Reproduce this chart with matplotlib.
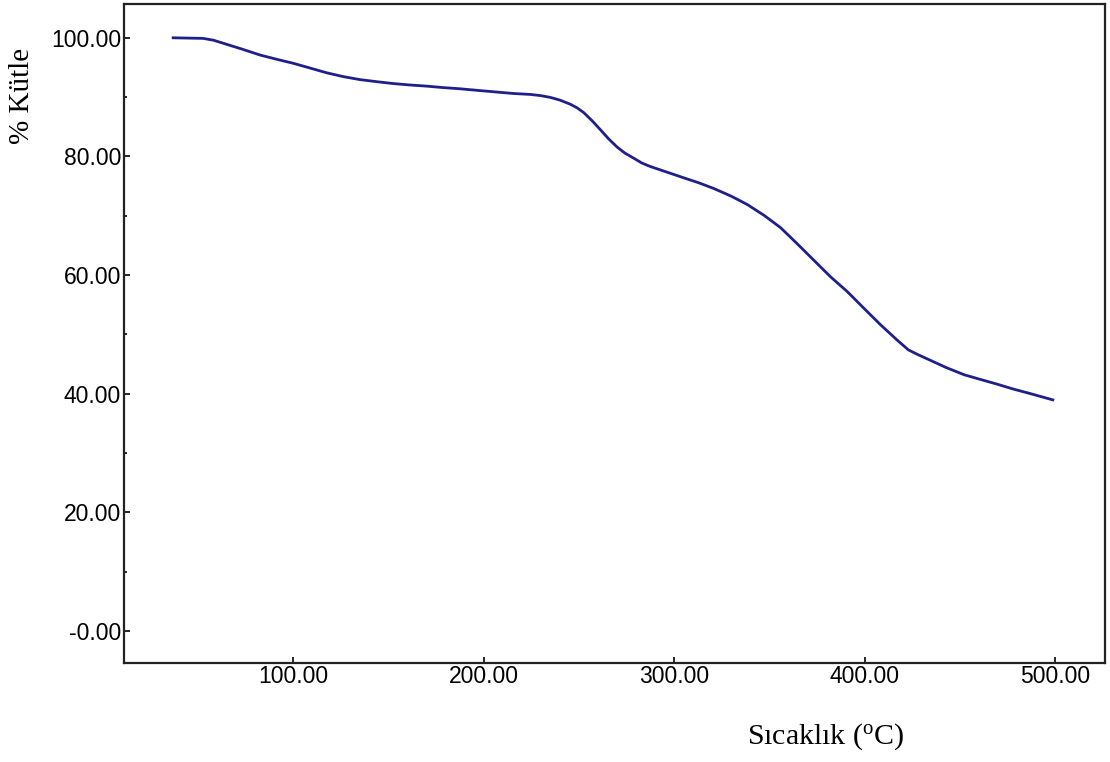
import matplotlib
matplotlib.use("Agg")
import matplotlib.pyplot as plt
from matplotlib.ticker import FixedLocator, FixedFormatter

# Data (TGA curve)
temperature = [36.2, 52.5, 58.0, 65.0, 73.0, 82.5, 91.0, 100.0, 108.8, 117.5,
               126.3, 135.0, 143.8, 152.0, 161.0, 170.0, 178.8, 187.7,
               198.0, 208.7, 216.0, 224.5, 230.0, 235.0, 240.0, 245.5, 249.0,
               252.5, 257.0, 261.3, 265.5, 270.0, 274.0, 278.8, 283.0, 287.5,
               296.3, 305.0, 313.0, 320.8, 330.0, 338.4, 347.1, 355.9, 364.6,
               373.4, 382.2, 391.0, 399.7, 408.5, 417.3, 423.0, 428.0, 434.8,
               443.0, 452.3, 461.0, 469.8, 478.0, 487.3, 499.6]
mass = [100.0, 99.9, 99.6, 98.9, 98.1, 97.1, 96.4, 95.7, 94.9, 94.1,
        93.45, 92.95, 92.6, 92.3, 92.05, 91.85, 91.6, 91.4,
        91.1, 90.8, 90.6, 90.45, 90.25, 89.95, 89.5, 88.8, 88.2,
        87.4, 86.0, 84.5, 83.0, 81.6, 80.6, 79.7, 78.9, 78.3,
        77.35, 76.4, 75.55, 74.6, 73.3, 71.9, 70.1, 68.0, 65.3,
        62.5, 59.7, 57.2, 54.4, 51.6, 49.0, 47.4, 46.6, 45.6,
        44.4, 43.2, 42.4, 41.6, 40.8, 40.0, 38.9]

x_ticks = [100, 200, 300, 400, 500]
x_ticklabels = ["100.00", "200.00", "300.00", "400.00", "500.00"]
y_ticks = [0, 20, 40, 60, 80, 100]
y_ticklabels = ["-0.00", "20.00", "40.00", "60.00", "80.00", "100.00"]
y_minor = [10, 30, 50, 70, 90]

plt.rcParams['mathtext.fontset'] = 'custom'
plt.rcParams['mathtext.rm'] = 'Liberation Serif'

fig = plt.figure(figsize=(11.1, 7.62), dpi=100)
ax = fig.add_axes([0.1117, 0.1303, 0.8838, 0.8645])

ax.plot(temperature, mass, color='#1f1f8c', linewidth=2.0,
        solid_joinstyle='round', solid_capstyle='butt')

ax.set_xlim(11.1, 526.3)
ax.set_ylim(-5.34, 105.7)

ax.xaxis.set_major_locator(FixedLocator(x_ticks))
ax.xaxis.set_major_formatter(FixedFormatter(x_ticklabels))
ax.yaxis.set_major_locator(FixedLocator(y_ticks))
ax.yaxis.set_major_formatter(FixedFormatter(y_ticklabels))
ax.yaxis.set_minor_locator(FixedLocator(y_minor))

ax.tick_params(axis='both', which='major', direction='in', length=4, width=1.2,
               labelsize=16.5, colors='black')
ax.tick_params(axis='y', which='minor', direction='in', length=2.2, width=1.2)
ax.tick_params(axis='x', which='major', pad=2)
ax.tick_params(axis='y', which='major', pad=2)
for lab in ax.get_xticklabels() + ax.get_yticklabels():
    lab.set_fontfamily('Liberation Sans')

for sp in ax.spines.values():
    sp.set_linewidth(1.6)
    sp.set_color('#222222')

fig.text(0.0198, 0.874, '% Kütle', rotation=90, ha='center', va='center',
         fontsize=21, family='Liberation Serif')
fig.text(0.744, 0.0235, r'Sıcaklık ($\mathrm{^{o}}$C)', ha='center', va='baseline',
         fontsize=21.5, family='Liberation Serif')

fig.savefig('out.png', dpi=100)
